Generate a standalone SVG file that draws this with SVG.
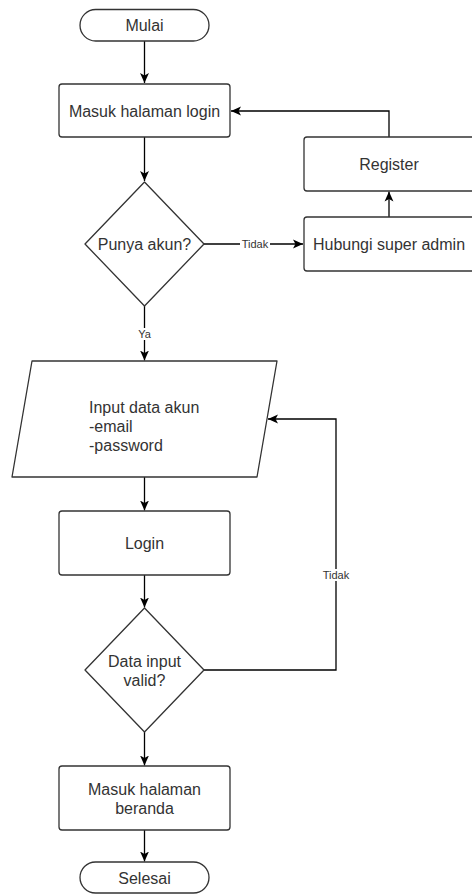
<svg xmlns="http://www.w3.org/2000/svg" width="472" height="894" viewBox="0 0 472 894">
<defs>
<marker id="arr" markerUnits="userSpaceOnUse" markerWidth="10" markerHeight="10" viewBox="0 0 9 9" refX="9" refY="4.5" orient="auto">
<path d="M0,0.5 L9,4.5 L0,8.5 L2.2,4.5 z" fill="#000"/>
</marker>
<style>
.shape{fill:#fff;stroke:#333;stroke-width:1.3}
.t{font-family:"Liberation Sans",Arial,sans-serif;font-size:16px;fill:#333;text-anchor:middle;dominant-baseline:central}
.tl{font-family:"Liberation Sans",Arial,sans-serif;font-size:16px;fill:#333}
.el{font-family:"Liberation Sans",Arial,sans-serif;font-size:11px;fill:#333;text-anchor:middle;dominant-baseline:central}
.c{fill:none;stroke:#000;stroke-width:1.3;marker-end:url(#arr)}
.lb{fill:#fff}
</style>
</defs>
<rect width="472" height="894" fill="#fff"/>
<g id="connectors">
<path class="c" d="M144.5,41 V83"/>
<path class="c" d="M144.5,137 V181"/>
<path class="c" d="M204,244 H303"/>
<path class="c" d="M389,217 V191.5"/>
<path class="c" d="M389,137 V111 H231"/>
<path class="c" d="M144.5,306 V360.5"/>
<path class="c" d="M144.5,477 V510.5"/>
<path class="c" d="M144.5,575 V607.5"/>
<path class="c" d="M204,670 H336 V419 H268"/>
<path class="c" d="M144.5,732 V765.5"/>
<path class="c" d="M144.5,830 V861.5"/>
<rect class="lb" x="240" y="238" width="30" height="12"/>
<text class="el" x="255" y="244">Tidak</text>
<rect class="lb" x="136" y="328" width="17" height="12"/>
<text class="el" x="144.5" y="334">Ya</text>
<rect class="lb" x="321" y="569" width="30" height="12"/>
<text class="el" x="336" y="575">Tidak</text>
</g>
<g id="mulai">
<rect class="shape" x="80" y="9.5" width="129" height="31.5" rx="15.7"/>
<text class="t" x="144.5" y="25.5">Mulai</text>
</g>
<g id="masuk-login">
<rect class="shape" x="59" y="84" width="171" height="53" rx="3"/>
<text class="t" x="144.5" y="111">Masuk halaman login</text>
</g>
<g id="punya-akun">
<path class="shape" d="M144.5,182 L204,244 L144.5,306 L85,244 Z" stroke-linejoin="round"/>
<text class="t" x="144.5" y="244.5">Punya akun?</text>
</g>
<g id="register">
<rect class="shape" x="304" y="137" width="171" height="54" rx="3"/>
<text class="t" x="389" y="164">Register</text>
</g>
<g id="hubungi">
<rect class="shape" x="304" y="217" width="171" height="54" rx="3"/>
<text class="t" x="389" y="244.5">Hubungi super admin</text>
</g>
<g id="input-data">
<path class="shape" d="M32,361 L277,361 L257,477 L12,477 Z" stroke-linejoin="round"/>
<text class="tl" x="89" y="413">Input data akun</text>
<text class="tl" x="89" y="432">-email</text>
<text class="tl" x="89" y="451">-password</text>
</g>
<g id="login">
<rect class="shape" x="59" y="511" width="171" height="64" rx="3"/>
<text class="t" x="144.5" y="543.5">Login</text>
</g>
<g id="data-valid">
<path class="shape" d="M144.5,608 L204,670 L144.5,732 L85,670 Z" stroke-linejoin="round"/>
<text class="t" x="144.5" y="661.5">Data input</text>
<text class="t" x="144.5" y="680.5">valid?</text>
</g>
<g id="masuk-beranda">
<rect class="shape" x="59" y="766" width="171" height="64" rx="3"/>
<text class="t" x="144.5" y="789">Masuk halaman</text>
<text class="t" x="144.5" y="808">beranda</text>
</g>
<g id="selesai">
<rect class="shape" x="80" y="862" width="129" height="31" rx="15.5"/>
<text class="t" x="144.5" y="878">Selesai</text>
</g>
</svg>
